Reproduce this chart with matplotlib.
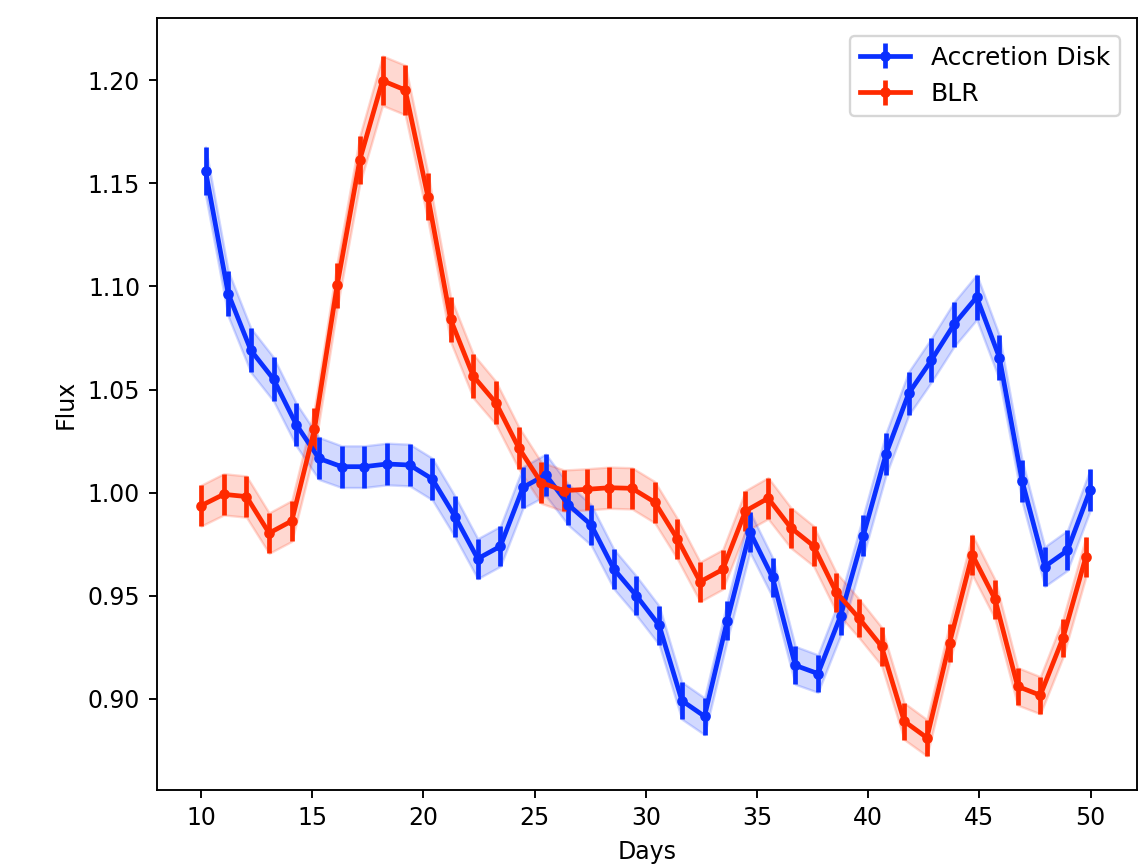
import matplotlib
matplotlib.use("Agg")
import matplotlib.pyplot as plt
import numpy as np

# Accretion disk light curve
disk_days = [10.20, 11.22, 12.24, 13.26, 14.28, 15.30, 16.32, 17.34, 18.36, 19.38,
             20.40, 21.42, 22.44, 23.46, 24.48, 25.50, 26.52, 27.54, 28.56, 29.58,
             30.60, 31.62, 32.64, 33.66, 34.68, 35.70, 36.72, 37.74, 38.76, 39.78,
             40.80, 41.82, 42.84, 43.86, 44.88, 45.90, 46.92, 47.94, 48.96, 49.98]
disk_flux = [1.156, 1.0965, 1.069, 1.055, 1.033, 1.0166, 1.0126, 1.0126, 1.0139, 1.0134,
             1.0066, 0.9884, 0.968, 0.974, 1.0026, 1.0086, 0.9941, 0.9844, 0.963, 0.950,
             0.9357, 0.8992, 0.8916, 0.9379, 0.981, 0.9589, 0.9163, 0.9123, 0.9403, 0.9792,
             1.0187, 1.0481, 1.0642, 1.0816, 1.0948, 1.0655, 1.0057, 0.9642, 0.972, 1.0013]
disk_err = [0.0116, 0.0110, 0.0107, 0.0106, 0.0103, 0.0102, 0.0101, 0.0101, 0.0101, 0.0101,
            0.0101, 0.0099, 0.0097, 0.0097, 0.0100, 0.0101, 0.0099, 0.0098, 0.0096, 0.0095,
            0.0094, 0.0090, 0.0089, 0.0094, 0.0098, 0.0096, 0.0092, 0.0091, 0.0094, 0.0098,
            0.0102, 0.0105, 0.0106, 0.0108, 0.0109, 0.0107, 0.0101, 0.0096, 0.0097, 0.0100]

# BLR light curve
blr_days = [10.00, 11.02, 12.04, 13.06, 14.08, 15.10, 16.12, 17.14, 18.16, 19.18,
            20.20, 21.22, 22.24, 23.26, 24.28, 25.30, 26.32, 27.34, 28.36, 29.38,
            30.40, 31.42, 32.44, 33.46, 34.48, 35.50, 36.52, 37.54, 38.56, 39.58,
            40.60, 41.62, 42.64, 43.66, 44.68, 45.70, 46.72, 47.74, 48.76, 49.78]
blr_flux = [0.9937, 0.9992, 0.9981, 0.9804, 0.9863, 1.0308, 1.1005, 1.1614, 1.1997, 1.1952,
            1.1435, 1.0840, 1.0565, 1.0435, 1.0218, 1.0048, 1.0010, 1.0016, 1.0024, 1.0021,
            0.9954, 0.9776, 0.9568, 0.9628, 0.9911, 0.9973, 0.9830, 0.9742, 0.9518, 0.9392,
            0.9255, 0.8892, 0.8812, 0.9272, 0.9699, 0.9484, 0.9061, 0.9018, 0.9296, 0.9686]
blr_err = [0.0099, 0.0100, 0.0100, 0.0098, 0.0099, 0.0103, 0.0110, 0.0116, 0.0120, 0.0120,
           0.0114, 0.0108, 0.0106, 0.0104, 0.0102, 0.0100, 0.0100, 0.0100, 0.0100, 0.0100,
           0.0100, 0.0098, 0.0096, 0.0096, 0.0099, 0.0100, 0.0098, 0.0097, 0.0095, 0.0094,
           0.0093, 0.0089, 0.0088, 0.0093, 0.0097, 0.0095, 0.0091, 0.0090, 0.0093, 0.0097]

DISK_COLOR = "#0a30ff"
BLR_COLOR = "#ff2a00"


def plot_curve(ax, days, flux, err, color, label):
    days = np.asarray(days)
    flux = np.asarray(flux)
    err = np.asarray(err)
    ax.fill_between(days, flux - err, flux + err, color=color, alpha=0.18)
    ax.errorbar(days, flux, yerr=err, color=color, marker="o", markersize=3.5,
                linewidth=2, elinewidth=2, label=label)


fig = plt.figure(figsize=(1143 / 170, 865 / 170), dpi=170)
ax = fig.add_axes([0.137, 0.087, 0.858, 0.892])

plot_curve(ax, disk_days, disk_flux, disk_err, DISK_COLOR, "Accretion Disk")
plot_curve(ax, blr_days, blr_flux, blr_err, BLR_COLOR, "BLR")

ax.set_xlim(8.0, 52.1)
ax.set_ylim(0.856, 1.230)
ax.set_xticks([10, 15, 20, 25, 30, 35, 40, 45, 50])
ax.set_yticks([0.90, 0.95, 1.00, 1.05, 1.10, 1.15, 1.20])
ax.set_xlabel("Days")
ax.set_ylabel("Flux")
ax.legend(loc="upper right", fontsize=10.6, borderaxespad=0.7)

fig.savefig("out.png", dpi=170)
